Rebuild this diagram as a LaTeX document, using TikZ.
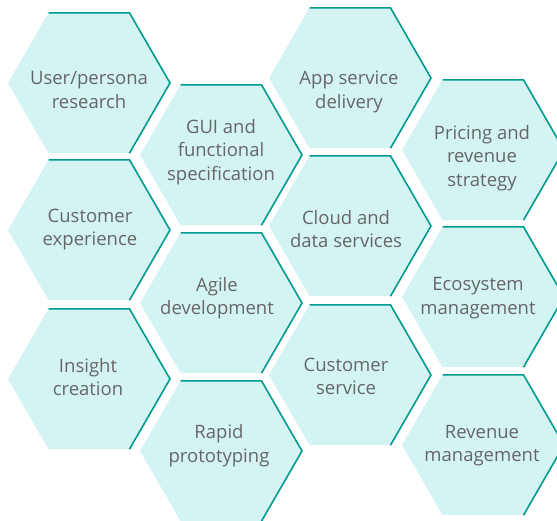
\documentclass[tikz,border=0pt]{standalone}
\usepackage{fontspec}
\setmainfont{Open Sans}
\definecolor{hexfillc}{RGB}{212,244,244}
\definecolor{hexline}{RGB}{0,155,142}
\definecolor{hextextc}{RGB}{102,102,102}
\tikzset{
  hexfill/.style={fill=hexfillc},
  hexedge/.style={draw=hexline,line width=1.6pt,line join=miter},
  hextext/.style={text=hextextc,align=center,font=\fontsize{18.5}{23.5}\selectfont,inner sep=0pt}
}
\newcommand{\hexcell}[6]{%
  \fill[hexfill] (#2,#3) ++(-81,0) -- ++(40.5,-70.15) -- ++(81,0) -- ++(40.5,70.15) -- ++(-40.5,70.15) -- ++(-81,0) -- cycle;
  \draw[hexedge] (#2,#3) ++(-40.5,-70.15) -- ++(81,0) -- ++(40.5,70.15) -- ++(-40.5,70.15);
  \node[hextext] (#1) at (#4,#5) {#6};
}
\begin{document}
\begin{tikzpicture}[x=1pt,y=-1pt]
\useasboundingbox (0,0) rectangle (557,520);
\clip (0,0) rectangle (557,520);
\hexcell{user}{89}{83}{89}{90}{User/persona\\research}
\hexcell{cx}{89}{230}{90}{229.5}{Customer\\experience}
\hexcell{insight}{89}{379}{88}{377}{Insight\\creation}
\hexcell{gui}{221}{155}{221}{152}{GUI and\\functional\\specification}
\hexcell{agile}{221}{303}{217}{298}{Agile\\development}
\hexcell{rapid}{221}{451}{219}{445.5}{Rapid\\prototyping}
\hexcell{app}{350}{78}{349}{92}{App service\\delivery}
\hexcell{cloud}{350}{226}{346}{229}{Cloud and\\data services}
\hexcell{cs}{350}{375}{346}{376.5}{Customer\\service}
\hexcell{pricing}{483}{150}{482}{158}{Pricing and\\revenue\\strategy}
\hexcell{eco}{483}{297}{478}{298}{Ecosystem\\management}
\hexcell{rev}{483}{445}{482}{445.5}{Revenue\\management}
\end{tikzpicture}
\end{document}
